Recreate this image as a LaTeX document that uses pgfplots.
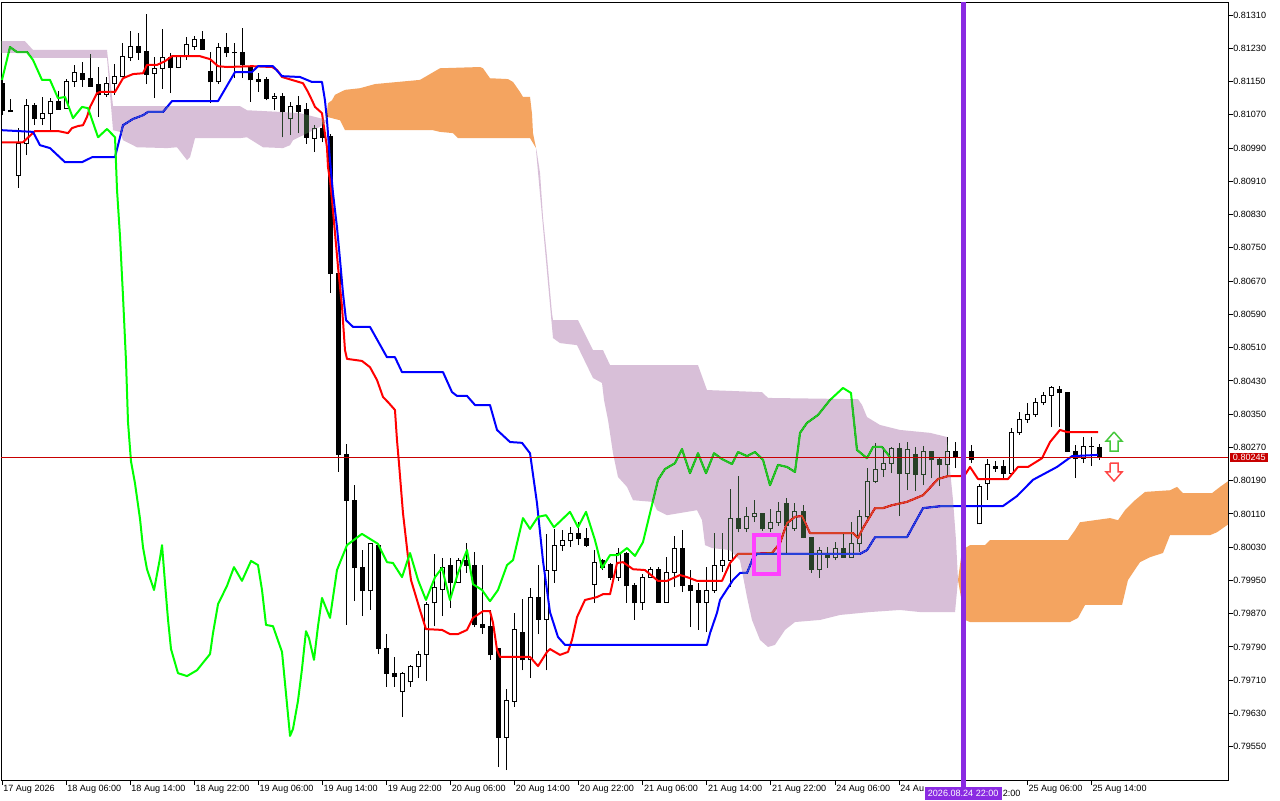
\documentclass[border=0pt]{standalone}
\usepackage{pgfplots}
\pgfplotsset{compat=1.18}
\usepackage{pgfplotstable}
\usepackage{fontspec}
\setmainfont{Liberation Sans}
\definecolor{tenkan}{RGB}{255,0,0}
\definecolor{kijun}{RGB}{0,0,255}
\definecolor{chikou}{RGB}{0,255,0}
\definecolor{cloudP}{RGB}{39,64,39}
\definecolor{cloudO}{RGB}{11,91,159}
\definecolor{vline}{RGB}{138,43,226}
\definecolor{pline}{RGB}{200,0,0}
\definecolor{magbox}{RGB}{255,64,255}
\definecolor{upg}{RGB}{70,200,60}
\definecolor{dnr}{RGB}{255,70,70}
\newcommand{\lblfont}{\fontsize{6.8pt}{8pt}\selectfont}
\pgfplotstableread{
i o h l c
0 0.81146 0.81154 0.81069 0.81081
1 0.81081 0.81108 0.81077 0.81077
2 0.80925 0.81038 0.80894 0.81000
3 0.81000 0.81108 0.80973 0.81093
4 0.81093 0.81098 0.81045 0.81060
5 0.81060 0.81113 0.81045 0.81072
6 0.81072 0.81110 0.81033 0.81101
7 0.81101 0.81127 0.81084 0.81084
8 0.81086 0.81156 0.81086 0.81151
9 0.81151 0.81190 0.81137 0.81173
10 0.81170 0.81197 0.81137 0.81156
11 0.81158 0.81216 0.81137 0.81139
12 0.81142 0.81185 0.81065 0.81118
13 0.81120 0.81161 0.81113 0.81146
14 0.81146 0.81192 0.81118 0.81161
15 0.81161 0.81243 0.81161 0.81211
16 0.81209 0.81271 0.81199 0.81235
17 0.81235 0.81267 0.81202 0.81221
18 0.81223 0.81312 0.81144 0.81168
19 0.81170 0.81209 0.81110 0.81182
20 0.81182 0.81276 0.81132 0.81207
21 0.81209 0.81219 0.81122 0.81185
22 0.81185 0.81214 0.81182 0.81211
23 0.81211 0.81257 0.81202 0.81240
24 0.81235 0.81259 0.81226 0.81250
25 0.81250 0.81271 0.81226 0.81228
26 0.81175 0.81221 0.81098 0.81149
27 0.81149 0.81243 0.81144 0.81233
28 0.81231 0.81267 0.81209 0.81219
29 0.81220 0.81243 0.81158 0.81219
30 0.81219 0.81279 0.81158 0.81190
31 0.81185 0.81190 0.81101 0.81154
32 0.81156 0.81170 0.81125 0.81151
33 0.81156 0.81161 0.81105 0.81110
34 0.81110 0.81122 0.81081 0.81115
35 0.81115 0.81122 0.81016 0.81077
36 0.81060 0.81101 0.81021 0.81089
37 0.81093 0.81115 0.81026 0.81079
38 0.81084 0.81098 0.81000 0.81016
39 0.81014 0.81045 0.80980 0.81036
40 0.81038 0.81062 0.81004 0.81016
41 0.81019 0.81024 0.80641 0.80689
42 0.80689 0.80697 0.80211 0.80254
43 0.80254 0.80278 0.79843 0.80143
44 0.80143 0.80179 0.79900 0.79980
45 0.79980 0.80023 0.79864 0.79925
46 0.79925 0.80040 0.79879 0.80038
47 0.80035 0.80036 0.79773 0.79787
48 0.79787 0.79821 0.79694 0.79727
49 0.79727 0.79766 0.79694 0.79718
50 0.79682 0.79730 0.79621 0.79727
51 0.79706 0.79747 0.79694 0.79742
52 0.79742 0.79780 0.79715 0.79773
53 0.79773 0.79898 0.79708 0.79893
54 0.79896 0.80014 0.79840 0.79932
55 0.79929 0.80004 0.79864 0.79982
56 0.79985 0.80004 0.79884 0.79946
57 0.79946 0.80004 0.79944 0.79999
58 0.79999 0.80040 0.79968 0.79987
59 0.79985 0.80018 0.79838 0.79843
60 0.79845 0.79987 0.79821 0.79838
61 0.79840 0.79879 0.79759 0.79771
62 0.79787 0.79788 0.79501 0.79573
63 0.79573 0.79689 0.79494 0.79662
64 0.79660 0.79872 0.79646 0.79831
65 0.79826 0.79905 0.79734 0.79759
66 0.79759 0.79932 0.79715 0.79910
67 0.79910 0.79987 0.79821 0.79857
68 0.79857 0.80062 0.79734 0.79973
69 0.79975 0.80074 0.79944 0.80035
70 0.80035 0.80071 0.80021 0.80045
71 0.80045 0.80078 0.80030 0.80064
72 0.80064 0.80090 0.80035 0.80052
73 0.80052 0.80076 0.80030 0.80035
74 0.79941 0.80023 0.79896 0.79994
75 0.79999 0.80001 0.79975 0.79980
76 0.79989 0.79992 0.79951 0.79958
77 0.79958 0.80028 0.79949 0.80016
78 0.80016 0.80018 0.79896 0.79937
79 0.79937 0.79944 0.79855 0.79896
80 0.79896 0.79965 0.79879 0.79958
81 0.79958 0.79982 0.79957 0.79977
82 0.79977 0.79982 0.79896 0.79898
83 0.79898 0.80006 0.79896 0.79970
84 0.79970 0.80057 0.79934 0.80026
85 0.80026 0.80071 0.79922 0.79937
86 0.79937 0.79975 0.79838 0.79925
87 0.79925 0.79944 0.79831 0.79898
88 0.79898 0.79982 0.79826 0.79927
89 0.79927 0.80064 0.79920 0.79987
90 0.79987 0.80064 0.79970 0.79997
91 0.79999 0.80170 0.79934 0.80100
92 0.80098 0.80201 0.80066 0.80074
93 0.80074 0.80127 0.80066 0.80103
94 0.80103 0.80143 0.80090 0.80110
95 0.80110 0.80111 0.80069 0.80074
96 0.80076 0.80122 0.80066 0.80090
97 0.80090 0.80139 0.80081 0.80117
98 0.80136 0.80148 0.80016 0.80081
99 0.80074 0.80136 0.80069 0.80115
100 0.80117 0.80131 0.80052 0.80054
101 0.80054 0.80055 0.79968 0.79977
102 0.79977 0.80030 0.79956 0.80023
103 0.80014 0.80030 0.79980 0.80006
104 0.80006 0.80042 0.79999 0.80028
105 0.80028 0.80064 0.80006 0.80006
106 0.80006 0.80090 0.80005 0.80038
107 0.80038 0.80119 0.80018 0.80103
108 0.80103 0.80220 0.80095 0.80189
109 0.80189 0.80281 0.80184 0.80218
110 0.80218 0.80271 0.80199 0.80232
111 0.80232 0.80271 0.80208 0.80268
112 0.80268 0.80281 0.80105 0.80208
113 0.80208 0.80283 0.80167 0.80266
114 0.80254 0.80271 0.80165 0.80206
115 0.80206 0.80273 0.80179 0.80259
116 0.80259 0.80260 0.80196 0.80240
117 0.80240 0.80245 0.80177 0.80228
118 0.80228 0.80295 0.80204 0.80261
119 0.80261 0.80283 0.80220 0.80247
120 0.80247 0.80264 0.80228 0.80252
121 0.80261 0.80276 0.80232 0.80240
122 0.80086 0.80182 0.80085 0.80177
123 0.80184 0.80242 0.80143 0.80230
124 0.80223 0.80237 0.80211 0.80220
125 0.80223 0.80240 0.80196 0.80208
126 0.80208 0.80317 0.80207 0.80305
127 0.80305 0.80355 0.80300 0.80338
128 0.80338 0.80377 0.80329 0.80348
129 0.80348 0.80389 0.80343 0.80377
130 0.80377 0.80403 0.80372 0.80394
131 0.80396 0.80418 0.80319 0.80413
132 0.80410 0.80418 0.80319 0.80401
133 0.80401 0.80402 0.80261 0.80261
134 0.80261 0.80276 0.80196 0.80244
135 0.80244 0.80295 0.80232 0.80273
136 0.80273 0.80295 0.80225 0.80271
137 0.80271 0.80278 0.80240 0.80245
}\candles
\begin{document}
\begin{tikzpicture}
\fill[white] (0,0) rectangle (960pt,600pt);
\useasboundingbox (0,0) rectangle (960pt,600pt);
\begin{axis}[
  at={(0.75pt,15pt)}, anchor=south west, scale only axis,
  width=920.25pt, height=582.75pt,
  xmin=-0.125, xmax=153.06, ymin=0.79470, ymax=0.81339,
  axis line style={line width=0.75pt},
  tick style={black, line width=0.75pt},
  major tick length=3.75pt, tick align=outside,
  xtick pos=bottom, ytick pos=right, yticklabel pos=right,
  scaled y ticks=false,
  /pgf/number format/assume math mode=true,
  xtick={0,8,16,24,32,40,48,56,64,72,80,88,96,104,112,120,128,136},
  xticklabels={17 Aug 2026,18 Aug 06:00,18 Aug 14:00,18 Aug 22:00,19 Aug 06:00,19 Aug 14:00,19 Aug 22:00,20 Aug 06:00,20 Aug 14:00,20 Aug 22:00,21 Aug 06:00,21 Aug 14:00,21 Aug 22:00,24 Aug 06:00,24 Au,{},25 Aug 06:00,25 Aug 14:00},
  xticklabel style={anchor=north west, inner sep=0pt, font=\lblfont, xshift=0.75pt},
  ytick={0.79550,0.79630,0.79710,0.79790,0.79870,0.79950,0.80030,0.80110,0.80190,0.80270,0.80350,0.80430,0.80510,0.80590,0.80670,0.80750,0.80830,0.80910,0.80990,0.81070,0.81150,0.81230,0.81310},
  yticklabels={0.79550,0.79630,0.79710,0.79790,0.79870,0.79950,0.80030,0.80110,0.80190,0.80270,0.80350,0.80430,0.80510,0.80590,0.80670,0.80750,0.80830,0.80910,0.80990,0.81070,0.81150,0.81230,0.81310},
  yticklabel style={anchor=west, inner sep=0pt, font=\lblfont},
  every axis plot/.append style={line join=round},
]
% wicks
\addplot[draw=none, mark=none, forget plot,
  error bars/.cd, y dir=plus, y explicit, error mark=none,
  error bar style={draw=black, line width=0.75pt, line cap=butt}]
  table[x=i, y=l, y error plus expr=\thisrow{h}-\thisrow{l}] {\candles};
% bearish bodies
\addplot[draw=none, mark=none, forget plot,
  restrict expr to domain={\thisrow{o}-\thisrow{c}}{0:1},
  error bars/.cd, y dir=plus, y explicit, error mark=none,
  error bar style={draw=black, line width=3.75pt, line cap=butt}]
  table[x=i, y expr=\thisrow{c}-0.000012, y error plus expr=\thisrow{o}-\thisrow{c}+0.000024] {\candles};
% bullish bodies: outline
\addplot[draw=none, mark=none, forget plot,
  restrict expr to domain={\thisrow{c}-\thisrow{o}}{0.000001:1},
  error bars/.cd, y dir=plus, y explicit, error mark=none,
  error bar style={draw=black, line width=3.75pt, line cap=butt}]
  table[x=i, y expr=\thisrow{o}-0.000012, y error plus expr=\thisrow{c}-\thisrow{o}+0.000024] {\candles};
% bullish bodies: white inside
\addplot[draw=none, mark=none, forget plot,
  restrict expr to domain={\thisrow{c}-\thisrow{o}}{0.000001:1},
  error bars/.cd, y dir=plus, y explicit, error mark=none,
  error bar style={draw=white, line width=2.25pt, line cap=butt}]
  table[x=i, y expr=\thisrow{o}+0.000012, y error plus expr={max(\thisrow{c}-\thisrow{o}-0.000024,0)}] {\candles};
% Tenkan
\addplot[tenkan, line width=1.5pt, mark=none] coordinates {
(0,0.81004) (2.62,0.81004) (4.12,0.81031) (6.99,0.81031) (8.24,0.81026) (8.74,0.81038) (9.49,0.81043) (10.11,0.81045) (10.61,0.81065) (10.99,0.81089) (11.86,0.81122) (12.23,0.81125) (14.11,0.81125) (15.11,0.81158) (16.35,0.81168) (17.60,0.81170) (18.10,0.81190) (19.35,0.81190) (20.35,0.81199) (21.22,0.81211) (24.72,0.81211) (25.97,0.81204) (26.97,0.81187) (28.09,0.81185) (31.21,0.81187) (33.71,0.81185) (34.33,0.81178) (34.96,0.81161) (37.58,0.81146) (38.20,0.81125) (38.70,0.81105) (39.08,0.81089) (39.95,0.81074) (40.07,0.81057) (40.57,0.80992) (40.70,0.80944) (40.95,0.80913) (41.20,0.80865) (41.57,0.80786) (41.95,0.80704) (42.45,0.80608) (42.82,0.80504) (43.07,0.80483) (44.94,0.80478) (45.94,0.80463) (46.82,0.80432) (47.57,0.80391) (48.19,0.80379) (49.06,0.80360) (49.31,0.80288) (49.56,0.80232) (50.06,0.80112) (50.69,0.80006) (51.06,0.79951) (51.81,0.79903) (52.18,0.79879) (52.93,0.79833) (54.93,0.79831) (55.93,0.79821) (56.93,0.79821) (58.05,0.79831) (58.80,0.79860) (60.05,0.79876) (60.92,0.79876) (61.30,0.79848) (61.80,0.79783) (62.17,0.79766) (65.92,0.79766) (66.92,0.79744) (68.04,0.79778) (68.41,0.79785) (69.66,0.79771) (70.66,0.79778) (71.16,0.79807) (71.79,0.79862) (72.78,0.79903) (74.28,0.79910) (75.03,0.79917) (75.91,0.79917) (76.78,0.79992) (77.53,0.79994) (78.78,0.79977) (80.27,0.79975) (81.90,0.79949) (83.02,0.79949) (84.64,0.79963) (85.52,0.79958) (86.77,0.79949) (89.89,0.79949) (90.89,0.79992) (91.89,0.80014) (93.63,0.80014) (96.13,0.80016) (97.13,0.80040) (98.00,0.80088) (99.00,0.80103) (99.88,0.80105) (100.87,0.80064) (106.24,0.80064) (106.87,0.80052) (107.49,0.80076) (108.99,0.80124) (109.99,0.80124) (111.11,0.80131) (112.98,0.80139) (114.98,0.80155) (116.85,0.80194) (118.10,0.80201) (119.60,0.80201) (120.22,0.80204) (120.85,0.80223) (121.85,0.80194) (125.59,0.80194) (126.84,0.80223) (128.09,0.80223) (129.84,0.80244) (130.84,0.80283) (132.08,0.80312) (132.96,0.80307) (136.83,0.80307)
};
% Kijun
\addplot[kijun, line width=1.5pt, mark=none] coordinates {
(0,0.81033) (3.87,0.81029) (4.74,0.80997) (5.99,0.80990) (7.87,0.80956) (9.99,0.80956) (11.24,0.80968) (14.11,0.80968) (15.11,0.81045) (16.35,0.81060) (17.60,0.81069) (18.23,0.81077) (20.10,0.81077) (21.22,0.81103) (26.97,0.81103) (29.09,0.81173) (31.21,0.81173) (31.96,0.81187) (33.83,0.81187) (34.96,0.81163) (37.20,0.81161) (38.70,0.81149) (39.95,0.81149) (40.32,0.81105) (40.57,0.81057) (40.95,0.80961) (41.32,0.80882) (41.82,0.80800) (42.20,0.80721) (42.57,0.80641) (42.95,0.80576) (43.82,0.80560) (45.94,0.80560) (48.06,0.80487) (49.06,0.80487) (49.94,0.80451) (55.06,0.80451) (56.18,0.80403) (56.80,0.80394) (58.05,0.80394) (59.05,0.80372) (60.92,0.80372) (61.80,0.80312) (63.42,0.80283) (64.92,0.80281) (65.92,0.80256) (66.79,0.80136) (67.54,0.79997) (68.41,0.79874) (69.41,0.79814) (70.29,0.79795) (88.01,0.79795) (88.39,0.79823) (89.26,0.79872) (89.64,0.79903) (91.26,0.79951) (92.13,0.79968) (93.01,0.79968) (93.76,0.80004) (94.26,0.80014) (107.12,0.80014) (107.99,0.80023) (108.99,0.80054) (112.98,0.80054) (114.98,0.80124) (117.35,0.80129) (124.97,0.80129) (126.72,0.80153) (128.71,0.80192) (131.71,0.80223) (133.58,0.80249) (136.83,0.80252)
};
% Chikou
\addplot[chikou, line width=1.5pt, mark=none] coordinates {
(0,0.81154) (1.00,0.81233) (1.87,0.81221) (3.12,0.81221) (3.87,0.81202) (4.99,0.81154) (5.99,0.81154) (6.99,0.81110) (7.87,0.81113) (8.86,0.81062) (9.99,0.81089) (10.74,0.81086) (11.99,0.81016) (13.11,0.81036) (14.11,0.81016) (14.36,0.80889) (14.73,0.80778) (15.11,0.80632) (15.48,0.80478) (15.73,0.80331) (16.10,0.80237) (16.60,0.80184) (17.23,0.80098) (17.60,0.80030) (18.10,0.79977) (18.98,0.79927) (19.73,0.80004) (19.98,0.80035) (20.35,0.79944) (20.72,0.79857) (21.10,0.79785) (21.97,0.79727) (23.10,0.79720) (24.34,0.79734) (25.97,0.79773) (26.34,0.79823) (26.97,0.79893) (28.09,0.79937) (28.96,0.79982) (29.96,0.79949) (31.09,0.79997) (31.96,0.79987) (32.46,0.79927) (32.96,0.79843) (33.83,0.79840) (34.96,0.79778) (35.33,0.79703) (35.96,0.79576) (36.33,0.79593) (36.95,0.79660) (37.45,0.79737) (37.95,0.79828) (38.33,0.79811) (38.95,0.79759) (39.45,0.79840) (39.95,0.79908) (40.95,0.79860) (41.82,0.79975) (43.07,0.80035) (44.94,0.80062) (46.94,0.80038) (48.06,0.79994) (48.81,0.79992) (49.94,0.79958) (50.94,0.80016) (51.94,0.79951) (52.93,0.79903) (54.06,0.79958) (54.93,0.79980) (55.93,0.79903) (56.93,0.79968) (58.05,0.80023) (58.80,0.79941) (59.93,0.79927) (60.92,0.79900) (61.92,0.79927) (63.05,0.79987) (63.80,0.79999) (65.04,0.80100) (65.92,0.80074) (66.92,0.80103) (67.92,0.80107) (68.91,0.80078) (70.91,0.80115) (71.91,0.80078) (72.91,0.80115) (74.03,0.80047) (74.91,0.79980) (75.91,0.80011) (76.90,0.80011) (78.03,0.80028) (79.03,0.80009) (80.02,0.80042) (80.90,0.80112) (81.90,0.80192) (82.77,0.80218) (84.02,0.80232) (84.89,0.80266) (85.89,0.80208) (86.89,0.80256) (87.89,0.80208) (88.89,0.80256) (89.89,0.80242) (91.14,0.80230) (91.89,0.80259) (93.01,0.80249) (94.01,0.80259) (95.01,0.80240) (95.88,0.80179) (96.88,0.80228) (98.00,0.80223) (99.00,0.80211) (99.63,0.80305) (100.50,0.80329) (101.87,0.80348) (103.37,0.80384) (104.99,0.80413) (105.99,0.80401) (106.74,0.80264) (107.99,0.80244) (108.74,0.80271) (109.86,0.80271) (110.86,0.80247)
};
% Cloud (drawn with difference blending, as the terminal does)
\addplot[draw=none, fill=cloudP, blend mode=difference, forget plot] coordinates {
(-0.2,0.81247) (2.87,0.81247) (3.87,0.81226) (13.11,0.81226) (13.86,0.81091) (29.71,0.81091) (30.59,0.81081) (34.71,0.81077) (37.20,0.81074) (39.70,0.81062) (40.45,0.81057)
(40.45,0.81053) (39.70,0.81041) (36.33,0.81009) (35.96,0.80997) (35.08,0.80990) (32.58,0.80992) (30.59,0.81016) (29.71,0.81014) (24.10,0.81014) (23.47,0.80968) (23.10,0.80961) (21.85,0.80992) (20.60,0.80990) (16.85,0.80992) (15.11,0.81009) (14.73,0.81029) (13.86,0.81033) (13.11,0.81207) (3.87,0.81207) (3.12,0.81219) (-0.2,0.81219)
};
\addplot[draw=none, fill=cloudO, blend mode=difference, forget plot] coordinates {
(40.45,0.81057) (40.70,0.81098) (41.20,0.81105) (41.57,0.81118) (42.82,0.81130) (44.69,0.81134) (46.57,0.81144) (52.18,0.81154) (53.43,0.81168) (54.68,0.81182) (59.68,0.81185) (60.05,0.81182) (60.92,0.81158) (63.17,0.81156) (63.80,0.81149) (64.67,0.81125) (65.04,0.81113) (65.92,0.81113) (66.17,0.81072) (66.29,0.81026) (66.67,0.80990)
(65.92,0.81014) (56.93,0.81014) (56.30,0.81026) (54.68,0.81029) (53.81,0.81033) (42.82,0.81033) (42.20,0.81057) (40.57,0.81065)
};
\addplot[draw=none, fill=cloudP, blend mode=difference, forget plot] coordinates {
(66.67,0.80990) (66.79,0.80978) (67.17,0.80930) (67.54,0.80824) (68.04,0.80728) (68.66,0.80593) (68.79,0.80576) (71.91,0.80576) (73.78,0.80504) (75.03,0.80504) (75.91,0.80468) (86.89,0.80468) (88.01,0.80408) (94.88,0.80403) (95.63,0.80389) (106.87,0.80386) (107.37,0.80372) (107.99,0.80343) (109.61,0.80324) (112.11,0.80312) (115.86,0.80305) (117.98,0.80295) (118.35,0.80216) (118.73,0.80143) (119.10,0.80047) (119.35,0.79951)
(118.98,0.79874) (114.61,0.79874) (112.11,0.79879) (108.36,0.79874) (104.62,0.79867) (102.12,0.79855) (99.00,0.79850) (97.75,0.79831) (96.50,0.79795) (95.63,0.79790) (94.63,0.79807) (93.63,0.79855) (93.01,0.79910) (92.13,0.79999) (90.89,0.80023) (88.64,0.80028) (87.77,0.80035) (87.39,0.80095) (86.77,0.80119) (83.02,0.80107) (81.77,0.80119) (81.27,0.80139) (78.78,0.80143) (78.03,0.80175) (76.90,0.80199) (76.28,0.80256) (75.66,0.80336) (75.16,0.80384) (74.91,0.80425) (73.78,0.80437) (71.79,0.80516) (69.66,0.80521) (68.79,0.80533) (66.67,0.80985)
};
\addplot[draw=none, fill=cloudO, blend mode=difference, forget plot] coordinates {
(119.35,0.79951) (119.85,0.80023) (120.85,0.80035) (122.72,0.80035) (123.35,0.80047) (133.08,0.80047) (133.96,0.80071) (134.58,0.80090) (138.33,0.80100) (139.33,0.80095) (140.20,0.80119) (141.45,0.80143) (142.70,0.80163) (145.82,0.80167) (146.69,0.80175) (147.44,0.80160) (151.06,0.80160) (152.06,0.80175) (153.3,0.80192)
(153.3,0.80088) (151.69,0.80066) (150.81,0.80059) (145.82,0.80059) (144.94,0.80016) (143.32,0.80006) (142.07,0.79994) (140.57,0.79951) (139.83,0.79891) (135.21,0.79891) (134.33,0.79860) (133.33,0.79850) (120.85,0.79850) (120.22,0.79855)
};
% current price line
\addplot[pline, line width=0.75pt, forget plot] coordinates {(-0.2,0.80245) (153.3,0.80245)};
% magenta box
\addplot[magbox, line width=3pt, line join=miter, forget plot] coordinates {(93.88,0.80059) (97.0,0.80059) (97.0,0.79965) (93.88,0.79965) (93.88,0.80059) (97.0,0.80059)};
% vertical line
\addplot[vline, line width=3.75pt, forget plot] coordinates {(120,0.79460) (120,0.81350)};
% arrows
\addplot[upg, fill=white, line width=1.1pt, line join=miter, forget plot] coordinates {(138.83,0.80307) (137.83,0.80285) (138.33,0.80285) (138.33,0.80261) (139.33,0.80261) (139.33,0.80285) (139.83,0.80285) (138.83,0.80307)};
\addplot[dnr, fill=white, line width=1.1pt, line join=miter, forget plot] coordinates {(138.33,0.80232) (139.33,0.80232) (139.33,0.80211) (139.83,0.80211) (138.83,0.80189) (137.83,0.80211) (138.33,0.80211) (138.33,0.80232)};
\coordinate (pl) at (axis cs:153.06,0.80245);
\coordinate (vb) at (axis cs:120,0.79470);
\end{axis}
\draw[vline, line width=3.75pt] (vb) -- ++(0,-6pt);
\node[fill=pline, text=white, anchor=west, inner xsep=2pt, inner ysep=0pt, minimum height=7pt, font=\lblfont] at ([xshift=1.5pt]pl) {0.80245};
\node[fill=vline, text=white, anchor=north, inner xsep=2.4pt, inner ysep=0pt, minimum height=9.4pt, font=\lblfont] (db) at ([yshift=-5.2pt]vb) {2026.08.24 22:00};
\node[anchor=base west, inner sep=0pt, font=\lblfont] at ([xshift=0.4pt]db.base east) {2:00};
\end{tikzpicture}
\end{document}
